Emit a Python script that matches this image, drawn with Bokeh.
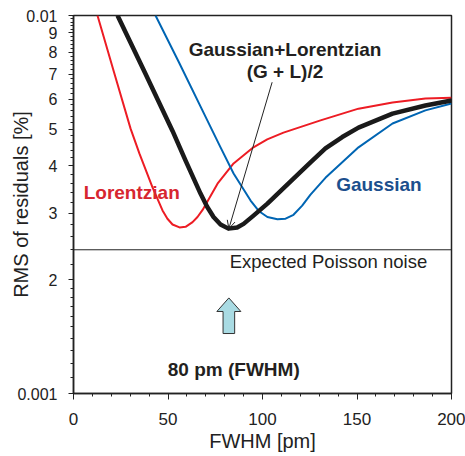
from bokeh.plotting import figure
from bokeh.models import Span, Arrow, OpenHead, FixedTicker, CustomJSTickFormatter
from bokeh.core.properties import value
from bokeh.embed import file_html
from bokeh.resources import INLINE

# ---- data ----
fwhm_lor = [12.7, 21.4, 30.2, 34.9, 41.8, 47.1, 49.7, 52.4, 56.1, 59.3, 63.0, 65.6, 68.3, 76.2, 84.7, 95.2, 102.5, 111.1, 130.7, 150.8, 168.8, 186.2, 200]
rms_lor = [10.0, 7.09, 5.02, 4.31, 3.51, 3.05, 2.90, 2.80, 2.75, 2.76, 2.84, 2.93, 3.06, 3.59, 4.06, 4.48, 4.70, 4.90, 5.28, 5.67, 5.89, 6.03, 6.06]

fwhm_gl = [23.3, 37.7, 52.4, 59.3, 67.2, 70.7, 74.1, 77.8, 82.0, 86.6, 90.0, 95.4, 102.6, 109.5, 116.4, 125.4, 133.3, 142.2, 150.8, 168.8, 186.2, 200]
rms_gl = [10.0, 7.08, 4.95, 4.13, 3.38, 3.12, 2.93, 2.80, 2.73, 2.75, 2.81, 2.96, 3.18, 3.43, 3.70, 4.09, 4.45, 4.77, 5.05, 5.50, 5.78, 5.96]

fwhm_gau = [43.4, 55.9, 70.8, 77.8, 84.7, 93.7, 98.0, 102.6, 107.9, 112.2, 116.4, 121.0, 125.4, 133.3, 142.2, 150.8, 168.8, 186.2, 200]
rms_gau = [10.0, 7.50, 5.28, 4.48, 3.82, 3.24, 3.04, 2.93, 2.89, 2.90, 2.97, 3.14, 3.36, 3.72, 4.09, 4.48, 5.18, 5.61, 5.85]

poisson_noise = 2.40  # x 1e-3

x_ticks = [0, 50, 100, 150, 200]
y_ticks = [0.001, 0.002, 0.003, 0.004, 0.005, 0.006, 0.007, 0.008, 0.009, 0.01]
y_labels = ["0.001", "2", "3", "4", "5", "6", "7", "8", "9", "0.01"]

SCALE = 1e-3
FONT = "Liberation Sans"

# ---- figure ----
p = figure(width=465, height=456, x_range=(0, 200), y_range=(0.001, 0.01),
           y_axis_type="log", output_backend="svg", toolbar_location=None,
           min_border_left=73, min_border_right=14, min_border_top=15, min_border_bottom=63)
p.xgrid.grid_line_color = None
p.ygrid.grid_line_color = None
p.outline_line_color = "#222222"
p.outline_line_width = 1.5
p.background_fill_color = "white"
p.border_fill_color = "white"

# curves
p.line(fwhm_lor, [v * SCALE for v in rms_lor], line_color="#ed1c24", line_width=2, line_join="round")
p.line(fwhm_gau, [v * SCALE for v in rms_gau], line_color="#0065b3", line_width=2, line_join="round")
p.line(fwhm_gl, [v * SCALE for v in rms_gl], line_color="#1a1a1a", line_width=4.5, line_join="round")

# Poisson noise line
p.add_layout(Span(location=poisson_noise * SCALE, dimension="width", line_color="#222222", line_width=1))

# annotation arrow for the combined curve
p.add_layout(Arrow(x_start=105.1, y_start=6.66e-3, x_end=82.2, y_end=2.73e-3,
                   line_color="#222222", line_width=1,
                   end=OpenHead(size=8, line_color="#222222", line_width=1)))

# block arrow pointing at 80 pm
ax = 82.2
tip, base, bottom = 1.79e-3, 1.648e-3, 1.441e-3
hw, sw = 6.35, 3.07
p.patch([ax, ax + hw, ax + sw, ax + sw, ax - sw, ax - sw, ax - hw],
        [tip, base, base, bottom, bottom, base, base],
        fill_color="#a9dbe3", line_color="#333333", line_width=1)

# texts
def txt(x, y, s, color, size, style="bold"):
    p.text([x], [y], text=[s], text_color=color, text_font=value(FONT),
           text_font_size=size, text_font_style=style,
           text_align="center", text_baseline="middle")

txt(111.9, 8.15e-3, "Gaussian+Lorentzian", "#231f20", "19px")
txt(111.9, 7.11e-3, "(G + L)/2", "#231f20", "19px")
txt(30.8, 3.41e-3, "Lorentzian", "#d7262f", "19px")
txt(161.6, 3.57e-3, "Gaussian", "#1c4f8d", "19px")
txt(134.9, 2.24e-3, "Expected Poisson noise", "#231f20", "18.5px", "normal")
txt(84.8, 1.157e-3, "80 pm (FWHM)", "#231f20", "19px")

# axes
p.xaxis.ticker = FixedTicker(ticks=x_ticks, minor_ticks=list(range(0, 201, 10)))
minor_y = [round(1 + 0.1 * i, 1) * SCALE for i in range(1, 10)] + \
          [round(2 + 0.2 * i, 1) * SCALE for i in range(1, 40) if i % 5 != 0]
p.yaxis.ticker = FixedTicker(ticks=y_ticks, minor_ticks=minor_y)
p.yaxis.formatter = CustomJSTickFormatter(args=dict(tvals=y_ticks, tlabels=y_labels), code="""
let best = 0, bd = Infinity;
for (let i = 0; i < tvals.length; i++) {
  const d = Math.abs(Math.log(tick) - Math.log(tvals[i]));
  if (d < bd) { bd = d; best = i; }
}
return tlabels[best];
""")

for axis in (p.xaxis, p.yaxis):
    axis.axis_line_color = "#222222"
    axis.axis_line_width = 1.5
    axis.major_tick_line_color = "#222222"
    axis.minor_tick_line_color = "#222222"
    axis.major_tick_in = 0
    axis.minor_tick_in = 0
    axis.major_label_text_font = FONT
    axis.major_label_text_color = "#222222"
    axis.axis_label_text_font = FONT
    axis.axis_label_text_font_style = "normal"
    axis.axis_label_text_font_size = "20px"
    axis.axis_label_text_color = "#222222"

p.xaxis.axis_label = "FWHM [pm]"
p.xaxis.major_tick_out = 6
p.xaxis.minor_tick_out = 3
p.xaxis.major_label_text_font_size = "17px"
p.xaxis.major_label_standoff = 13
p.xaxis.axis_label_standoff = 2

p.yaxis.axis_label = "RMS of residuals [%]"
p.yaxis.major_tick_out = 5
p.yaxis.minor_tick_out = 3
p.yaxis.major_label_text_font_size = "16px"
p.yaxis.major_label_standoff = 11
p.yaxis.axis_label_standoff = -18

open("out.html", "w").write(file_html(p, INLINE))
